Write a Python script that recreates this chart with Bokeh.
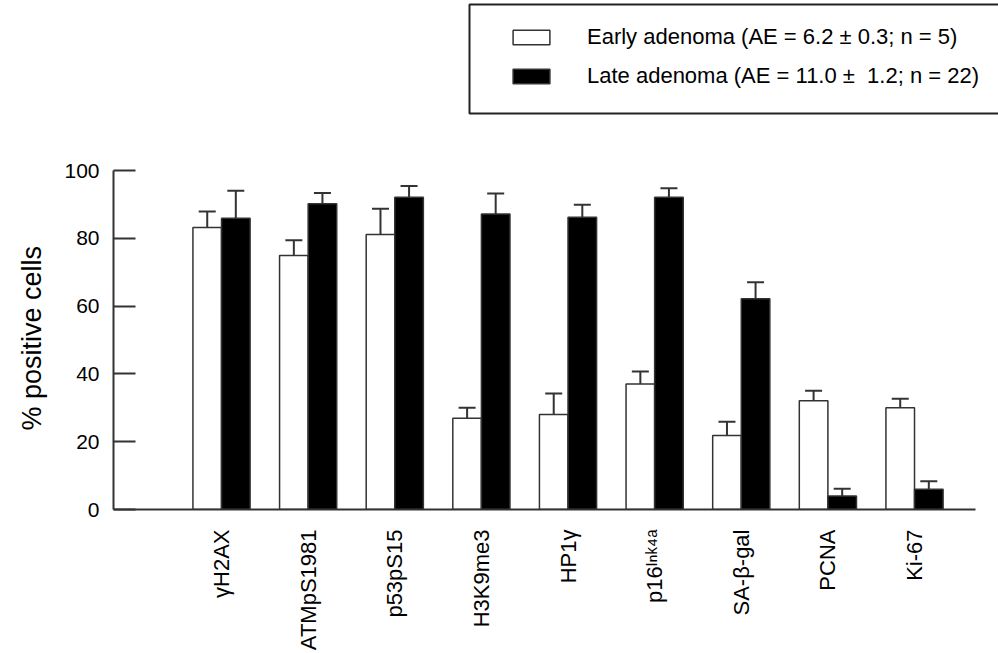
import math
from bokeh.plotting import figure
from bokeh.models import (ColumnDataSource, Range1d, FixedTicker, Whisker, TeeHead,
                          Legend, LegendItem, BoxAnnotation, Title)
from bokeh.embed import file_html
from bokeh.resources import INLINE

# ---- data ----
categories = ["γH2AX", "ATMpS1981", "p53pS15", "H3K9me3", "HP1γ", "p16ᴵⁿᵏ⁴ᵃ", "SA-β-gal", "PCNA", "Ki-67"]
early = [83.2, 74.9, 81.1, 26.9, 28.0, 37.0, 21.8, 32.1, 30.0]
early_err = [4.7, 4.5, 7.6, 3.1, 6.2, 3.7, 4.1, 2.9, 2.7]
late = [85.9, 90.2, 92.1, 87.2, 86.2, 92.1, 62.2, 4.0, 6.0]
late_err = [8.1, 3.2, 3.3, 6.0, 3.7, 2.7, 4.8, 2.1, 2.3]
y_ticks = [0, 20, 40, 60, 80, 100]
y_label = "% positive cells"
early_label = "Early adenoma (AE = 6.2 ± 0.3; n = 5)"
late_label = "Late adenoma (AE = 11.0 ±  1.2; n = 22)"

FONT = "Liberation Sans"
EDGE = "#333333"
W = 0.33
idx = list(range(len(categories)))

# axis extents (the frame is larger so that the legend fits inside it)
X_AXIS = (-1.247, 8.704)
Y_AXIS = (0, 100)

src = ColumnDataSource(dict(
    x_e=[i - W / 2 for i in idx],
    x_l=[i + W / 2 for i in idx],
    early=early,
    early_hi=[v + e for v, e in zip(early, early_err)],
    late=late,
    late_hi=[v + e for v, e in zip(late, late_err)],
))

p = figure(width=998, height=653, output_backend="svg", toolbar_location=None,
           x_range=Range1d(X_AXIS[0], 8.9695), y_range=Range1d(0, 150.15),
           min_border_left=113, min_border_right=0, min_border_top=0, min_border_bottom=144)
p.outline_line_color = None
p.xgrid.visible = False
p.ygrid.visible = False

r_e = p.vbar(x="x_e", top="early", width=W, bottom=0, source=src,
             fill_color="white", line_color=EDGE, line_width=1.5)
r_l = p.vbar(x="x_l", top="late", width=W, bottom=0, source=src,
             fill_color="black", line_color=EDGE, line_width=1.5)

for base, lo, hi in (("x_e", "early", "early_hi"), ("x_l", "late", "late_hi")):
    p.add_layout(Whisker(source=src, base=base, lower=lo, upper=hi, dimension="height",
                         line_color=EDGE, line_width=2, lower_head=None,
                         upper_head=TeeHead(size=17, line_color=EDGE, line_width=2),
                         level="overlay"))

ya = p.yaxis[0]
ya.bounds = Y_AXIS
ya.ticker = FixedTicker(ticks=y_ticks)
ya.minor_tick_line_color = None
ya.major_tick_in = 22
ya.major_tick_out = 0
ya.major_tick_line_color = EDGE
ya.major_tick_line_width = 2
ya.axis_line_color = EDGE
ya.axis_line_width = 2
ya.major_label_text_font = FONT
ya.major_label_text_font_size = "21px"
ya.major_label_text_color = "black"
ya.major_label_standoff = 14

p.add_layout(Title(text=y_label, align="left", vertical_align="top", offset=79, standoff=25,
                   text_font=FONT, text_font_size="27px", text_font_style="normal",
                   text_color="black"), "left")

xa = p.xaxis[0]
xa.bounds = X_AXIS
xa.ticker = FixedTicker(ticks=idx)
xa.major_label_overrides = {i: c for i, c in zip(idx, categories)}
xa.major_label_orientation = math.pi / 2
xa.minor_tick_line_color = None
xa.major_tick_line_color = None
xa.major_tick_in = 0
xa.major_tick_out = 0
xa.axis_line_color = EDGE
xa.axis_line_width = 2
xa.major_label_text_font = FONT
xa.major_label_text_font_size = "22px"
xa.major_label_text_color = "black"
xa.major_label_standoff = 20

# legend box and legend (inside the enlarged frame, above the bars)
p.add_layout(BoxAnnotation(left=356, right=920, top=505, bottom=396,
                           left_units="screen", right_units="screen",
                           top_units="screen", bottom_units="screen",
                           fill_color=None, fill_alpha=0,
                           line_color="#222222", line_alpha=1, line_width=2))
legend = Legend(items=[LegendItem(label=early_label, renderers=[r_e]),
                       LegendItem(label=late_label, renderers=[r_l])],
                location=(395, 420), orientation="vertical",
                glyph_width=46, glyph_height=18, label_standoff=33,
                label_text_font=FONT, label_text_font_size="22px", label_text_color="black",
                spacing=13, padding=0, margin=0,
                border_line_color=None, background_fill_alpha=0)
p.add_layout(legend, "center")

open("out.html", "w").write(file_html(p, INLINE))
